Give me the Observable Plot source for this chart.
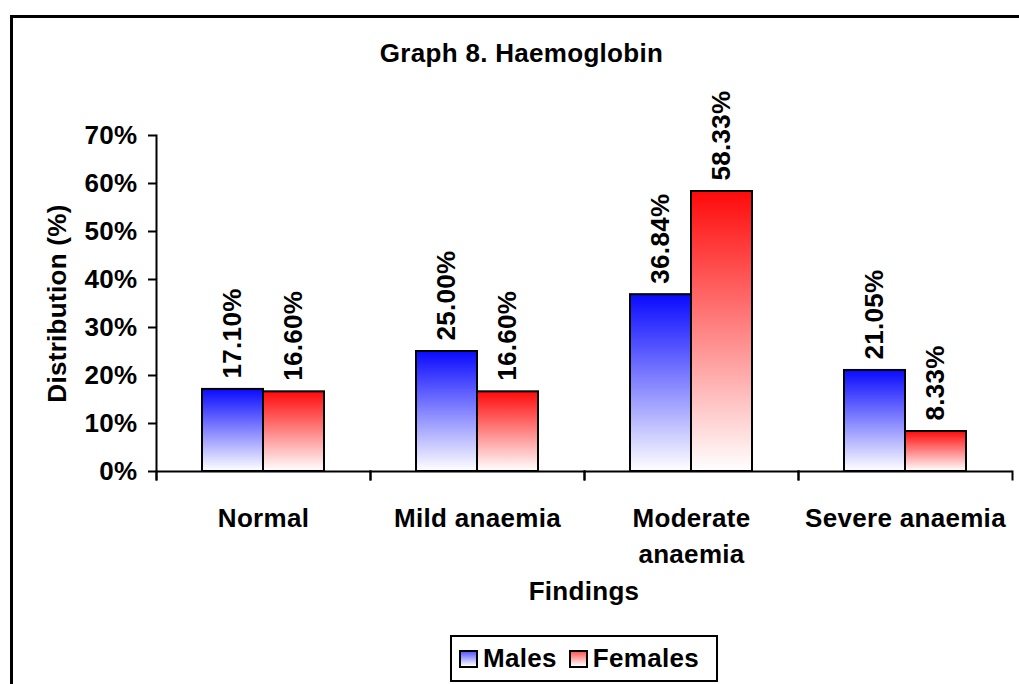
<!DOCTYPE html>
<html>
<head>
<meta charset="utf-8">
<script src="https://cdn.jsdelivr.net/npm/d3@7"></script>
<script src="https://cdn.jsdelivr.net/npm/@observablehq/plot@0.6"></script>
<style>
  body { margin: 0; background: #fff; }
  #wrap { position: relative; width: 1019px; height: 684px; overflow: hidden; font-family: "Liberation Sans", Arial, sans-serif; font-weight: bold; color: #000; }
  #border { position: absolute; left: 10px; top: 15px; width: 1040px; height: 720px; border: 3px solid #000; box-sizing: border-box; }
  #chart { position: absolute; left: 0; top: 0; }
  #title { position: absolute; left: 0; width: 1043px; top: 38px; text-align: center; font-size: 26px; letter-spacing: 0.3px; }
  #xtitle { position: absolute; left: 0; width: 1168px; top: 576px; text-align: center; font-size: 26px; letter-spacing: 0.3px; }
  #legend { position: absolute; left: 450px; top: 635px; width: 268px; height: 47px; border: 2px solid #000; box-sizing: border-box; background: #fff; display: flex; align-items: center; padding-left: 7px; font-size: 26px; letter-spacing: 0.3px; }
  .sw { width: 15px; height: 14px; border: 2px solid #000; margin-right: 5px; }
  .item { display: flex; align-items: center; margin-right: 12px; }
</style>
</head>
<body>
<svg width="0" height="0" style="position:absolute">
  <defs>
    <linearGradient id="gMale" x1="0" y1="0" x2="0" y2="1">
      <stop offset="0%" stop-color="#0a0aff"/>
      <stop offset="100%" stop-color="#ffffff"/>
    </linearGradient>
    <linearGradient id="gFemale" x1="0" y1="0" x2="0" y2="1">
      <stop offset="0%" stop-color="#ff0a0a"/>
      <stop offset="100%" stop-color="#ffffff"/>
    </linearGradient>
  </defs>
</svg>
<div id="wrap">
  <div id="border"></div>
  <div id="chart"></div>
  <div id="title">Graph 8. Haemoglobin</div>
  <div id="xtitle">Findings</div>
  <div id="legend"></div>
</div>
<script>
// ---- data ----
const categories = ["Normal", "Mild anaemia", "Moderate\nanaemia", "Severe anaemia"];
const series = ["Males", "Females"];
const males = [0.171, 0.25, 0.3684, 0.2105];
const females = [0.166, 0.166, 0.5833, 0.0833];
const yTicks = [0, 0.1, 0.2, 0.3, 0.4, 0.5, 0.6, 0.7];
const seriesFills = ["url(#gMale)", "url(#gFemale)"];

const rows = [];
categories.forEach((c, i) => {
  rows.push({category: c, sex: series[0], value: males[i]});
  rows.push({category: c, sex: series[1], value: females[i]});
});

const W = 1019, H = 684, mL = 155, mR = 7, mT = 135, mB = 213;
const frameH = H - mT - mB;
const font = "'Liberation Sans', Arial, sans-serif";

const chart = Plot.plot({
  width: W, height: H,
  marginLeft: mL, marginRight: mR, marginTop: mT, marginBottom: mB,
  style: {fontFamily: font, fontWeight: "bold", fontSize: "26px", color: "#000", background: "transparent", overflow: "visible", letterSpacing: "0.3px"},
  fx: {domain: categories, padding: 0},
  x: {domain: series, paddingInner: 0, paddingOuter: 0.742, axis: null},
  y: {domain: [0, 0.7]},
  color: {domain: series, range: seriesFills},
  marks: [
    Plot.axisY({ticks: yTicks, tickFormat: d3.format(".0%"), tickSize: 8, tickPadding: 11, strokeWidth: 2,
      label: "Distribution (%)", labelAnchor: "center", labelOffset: 109, labelArrow: "none", fontSize: 26}),
    Plot.axisFx({anchor: "bottom", tickSize: 0, tickPadding: 31, label: null, lineHeight: 1.35, fontSize: 26}),
    Plot.barY(rows, {fx: "category", x: "sex", y: "value", fill: "sex", stroke: "#000", strokeWidth: 2}),
    Plot.ruleY([0], {strokeWidth: 2}),
    Plot.frame({anchor: "left", fx: () => categories[0], insetBottom: -8, strokeWidth: 2}),
    Plot.frame({anchor: "left", insetTop: frameH, insetBottom: -8, strokeWidth: 2}),
    Plot.frame({anchor: "right", insetTop: frameH, insetBottom: -8, strokeWidth: 2}),
    Plot.text(rows, {fx: "category", x: "sex", y: "value", text: d => d3.format(".2%")(d.value),
      rotate: -90, textAnchor: "start", dy: -11, fontSize: 26, fontWeight: "bold", fill: "#000"})
  ]
});
document.getElementById("chart").appendChild(chart);

// legend
const legend = document.getElementById("legend");
series.forEach((s, i) => {
  const item = document.createElement("div");
  item.className = "item";
  const sw = document.createElement("div");
  sw.className = "sw";
  sw.style.background = i === 0 ? "linear-gradient(#5a5aff, #ffffff)" : "linear-gradient(#ff5a5a, #ffffff)";
  const t = document.createElement("span");
  t.textContent = s;
  item.appendChild(sw);
  item.appendChild(t);
  legend.appendChild(item);
});
</script>
</body>
</html>
